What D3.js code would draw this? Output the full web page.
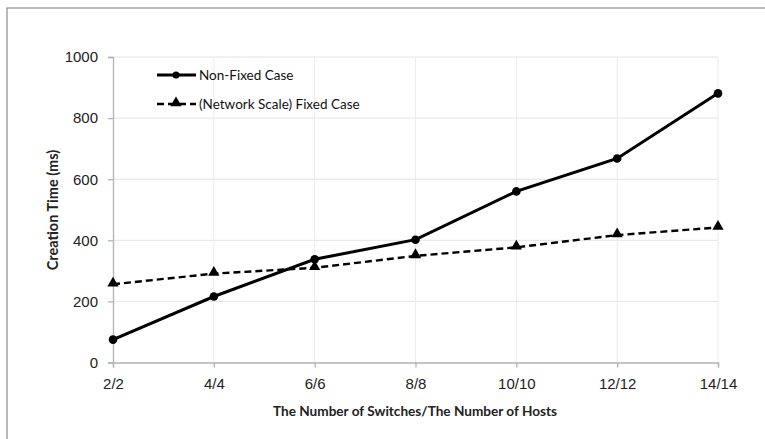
<!DOCTYPE html>
<html><head><meta charset="utf-8">
<script src="https://cdn.jsdelivr.net/npm/d3@7"></script>
<style>body{margin:0;background:#fff}svg{display:block}</style>
</head><body>
<svg id="c" width="765" height="439"></svg>
<script>
const categories = ["2/2","4/4","6/6","8/8","10/10","12/12","14/14"];
const nonFixed = [75, 216, 338, 402, 560, 668, 881];
const fixedCase = [256, 291, 310, 349, 377, 417, 442];
const yTicks = [0, 200, 400, 600, 800, 1000];
const seriesNames = ["Non-Fixed Case", "(Network Scale) Fixed Case"];

const svg = d3.select("#c");
const W = 765, H = 439;
// outer border
svg.append("rect").attr("x",7).attr("y",8).attr("width",W).attr("height",H)
  .attr("fill","none").attr("stroke","#8c8c8c").attr("stroke-width",1.2);

const x = d3.scalePoint().domain(categories).range([113, 718]);
const y = d3.scaleLinear().domain([0, 1000]).range([362.5, 57]);

// grid
svg.append("g").selectAll("line").data(yTicks.filter(d=>d>0)).join("line")
  .attr("x1",113).attr("x2",718).attr("y1",d=>y(d)).attr("y2",d=>y(d))
  .attr("stroke","#e3e3e3").attr("stroke-width",1);
svg.append("g").selectAll("line").data(categories.slice(1)).join("line")
  .attr("x1",d=>x(d)).attr("x2",d=>x(d)).attr("y1",y(1000)).attr("y2",y(0))
  .attr("stroke","#ececec").attr("stroke-width",1);

// axes
const xAxis = d3.axisBottom(x).tickSize(5).tickPadding(12);
const gx = svg.append("g").attr("transform",`translate(0,${y(0)})`).call(xAxis);
gx.select(".domain").attr("stroke","#b3b3b3").attr("stroke-width",1.3);
gx.selectAll(".tick line").attr("stroke","#b3b3b3").attr("stroke-width",1.3);
gx.selectAll("text").attr("font-family","Liberation Sans, Arial, sans-serif")
  .attr("font-size",15).attr("fill","#222").attr("dy","0.6em");

const yAxis = d3.axisLeft(y).tickValues(yTicks).tickFormat(d3.format("d")).tickSize(5).tickPadding(10);
const gy = svg.append("g").attr("transform",`translate(113,0)`).call(yAxis);
gy.select(".domain").attr("stroke","#b3b3b3").attr("stroke-width",1.3);
gy.selectAll(".tick line").attr("stroke","#b3b3b3").attr("stroke-width",1.3);
gy.selectAll("text").attr("font-family","Liberation Sans, Arial, sans-serif")
  .attr("font-size",15).attr("fill","#222");

// axis titles
svg.append("text").attr("x",415).attr("y",416).attr("text-anchor","middle")
  .attr("font-family","Lato, Open Sans, sans-serif").attr("font-weight","bold")
  .attr("font-size",13.6).attr("fill","#222")
  .text("The Number of Switches/The Number of Hosts");
svg.append("text").attr("transform","translate(58,210) rotate(-90)").attr("text-anchor","middle")
  .attr("font-family","Lato, Open Sans, sans-serif").attr("font-weight","bold")
  .attr("font-size",14.5).attr("fill","#222").text("Creation Time (ms)");

const line = d3.line().x((d,i)=>x(categories[i])).y(d=>y(d));

// fixed case (dashed)
svg.append("path").datum(fixedCase).attr("d",line).attr("fill","none")
  .attr("stroke","#000").attr("stroke-width",2.4).attr("stroke-dasharray","7,4");
const tri = d3.symbol().type(d3.symbolTriangle).size(55);
svg.append("g").selectAll("path").data(fixedCase).join("path")
  .attr("d",tri).attr("transform",(d,i)=>`translate(${x(categories[i])},${y(d)-1})`).attr("fill","#000");

// non-fixed (solid)
svg.append("path").datum(nonFixed).attr("d",line).attr("fill","none")
  .attr("stroke","#000").attr("stroke-width",3);
svg.append("g").selectAll("circle").data(nonFixed).join("circle")
  .attr("cx",(d,i)=>x(categories[i])).attr("cy",d=>y(d)).attr("r",4.3).attr("fill","#000");

// legend
const lg = svg.append("g");
const ly = [75, 104];
lg.append("line").attr("x1",157).attr("x2",196).attr("y1",ly[0]).attr("y2",ly[0])
  .attr("stroke","#000").attr("stroke-width",3);
lg.append("circle").attr("cx",176).attr("cy",ly[0]).attr("r",3.5).attr("fill","#000");
lg.append("line").attr("x1",157).attr("x2",196).attr("y1",ly[1]).attr("y2",ly[1])
  .attr("stroke","#000").attr("stroke-width",2.4).attr("stroke-dasharray","7,4");
lg.append("path").attr("d",tri).attr("transform",`translate(176,${ly[1]-1})`).attr("fill","#000");
lg.selectAll("text").data(seriesNames).join("text")
  .attr("x",199).attr("y",(d,i)=>ly[i]).attr("dy","0.35em")
  .attr("font-family","Lato, Open Sans, sans-serif").attr("font-size",13.5).attr("fill","#111")
  .text(d=>d);
</script>
</body></html>
